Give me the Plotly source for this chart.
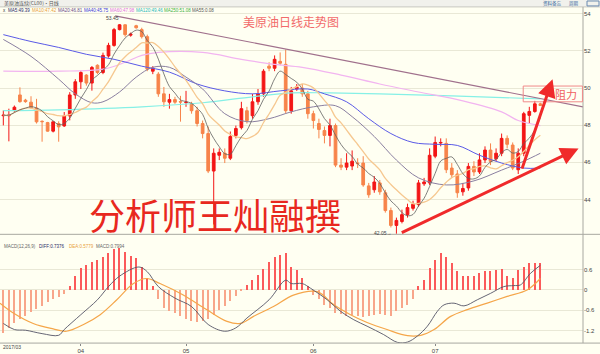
import plotly.graph_objects as go
import pandas as pd

W, H = 600, 354
def px(x): return x / W
def py(y): return 1 - y / H

BG = '#fffff2'
GRID = '#e9e8d6'
FONT = 'Liberation Sans'
CJK = 'Noto Sans CJK SC'

idx = list(range(98))
opens = [48.51,48.51,48.80,49.63,49.35,49.24,48.92,48.21,48.14,47.68,
         48.09,47.96,48.50,49.63,50.34,50.70,50.27,51.23,50.84,51.73,
         52.30,53.15,53.41,52.85,53.36,53.15,52.77,50.91,50.75,49.69,
         49.24,49.38,49.27,49.22,49.15,48.78,48.09,47.55,45.53,46.38,
         46.49,46.22,47.45,47.87,48.78,48.51,49.26,49.69,51.18,51.07,
         51.44,51.28,48.78,49.95,50.00,49.69,48.62,48.09,47.71,47.45,
         47.98,45.85,45.74,45.80,45.96,45.96,44.73,44.52,44.89,44.36,
         43.40,42.60,42.81,43.18,43.52,43.72,44.84,44.89,46.33,47.04,
         47.02,45.69,45.37,44.41,44.62,45.78,45.48,46.13,46.66,46.19,
         46.49,47.29,46.93,45.60,46.49,48.53,48.74,49.15]
closes = [48.54,48.54,48.97,49.27,49.27,48.95,48.18,48.19,47.68,48.18,
          47.91,48.50,49.63,50.34,50.84,50.27,51.11,50.84,51.76,52.30,
          53.15,53.41,52.88,52.91,53.25,52.77,51.02,51.07,49.69,49.26,
          49.38,49.24,49.25,49.24,48.78,48.09,47.55,45.53,46.49,46.54,
          46.22,47.39,47.82,48.89,48.25,49.26,49.69,50.91,51.07,51.55,
          51.34,48.78,49.85,50.06,49.69,48.62,48.25,47.77,47.45,47.98,
          45.85,45.74,45.96,46.06,45.93,44.78,44.25,44.94,44.41,43.40,
          42.60,42.87,43.18,43.56,43.74,44.89,44.94,46.38,47.07,47.07,
          45.60,45.33,44.36,44.59,45.78,45.48,46.13,46.66,46.05,46.49,
          47.29,46.97,45.69,46.49,48.62,48.74,49.15,49.06]
highs = [48.80,48.89,49.06,50.04,49.42,49.56,49.42,48.26,48.18,48.21,
         48.21,48.71,49.78,50.48,50.93,50.75,51.19,51.28,51.91,52.44,
         53.24,53.45,53.43,52.99,53.41,53.25,52.88,51.18,50.86,50.06,
         49.69,49.53,49.58,49.85,49.26,48.99,48.25,47.93,46.75,46.75,
         46.75,47.66,47.98,49.26,48.99,49.69,49.95,51.02,51.39,51.76,
         51.92,52.08,50.06,50.22,50.22,49.85,48.78,48.35,47.93,48.35,
         48.09,46.22,46.49,46.64,46.22,46.33,44.89,45.26,45.05,44.52,
         43.56,43.02,43.45,43.77,43.93,45.05,45.16,46.75,47.39,47.29,
         47.29,45.96,45.58,44.89,45.96,46.06,46.49,46.86,47.02,46.75,
         47.55,47.45,47.07,46.75,48.72,48.99,49.31,49.21]
lows = [47.99,47.13,48.71,49.21,49.21,48.89,48.09,47.11,47.65,47.61,
        47.11,47.91,48.26,49.42,49.95,50.13,49.86,50.75,50.75,51.64,
        52.23,53.11,52.77,52.77,53.20,52.67,50.91,50.75,49.53,48.99,
        48.89,49.15,48.19,48.99,48.62,47.93,47.29,45.42,42.65,46.12,
        45.96,46.12,47.29,47.77,48.09,48.35,49.10,49.53,50.91,50.91,
        51.23,48.62,48.62,49.85,49.53,48.35,47.82,47.29,47.02,46.86,
        45.74,45.58,45.58,45.58,45.69,44.68,44.09,44.36,44.25,43.29,
        42.49,42.15,42.71,43.02,43.40,43.61,44.73,44.78,46.22,46.86,
        45.42,45.16,44.09,44.20,44.47,45.26,45.37,45.96,45.85,46.06,
        46.33,46.75,45.58,45.37,46.33,48.09,48.67,49.04]

# moving averages (sample positions, price)
ma20_x = [0,5,10,13,16,18,21,24,27,30,33,36,40,44,48,52,56,60,63,67,71,75,80,85,90,94,97]
ma20_y = [52.62,51.71,50.48,49.69,49.21,49.26,49.79,50.59,51.12,51.12,50.59,49.95,48.62,48.19,
          48.35,48.72,48.99,49.05,48.46,47.39,46.12,45.16,44.78,45.00,45.58,46.06,46.49]
ma40_x = [0,5,10,15,20,25,30,35,40,45,50,55,58,62,66,70,74,78,82,86,90,94,97]
ma40_y = [52.88,52.51,52.19,51.82,51.55,51.18,50.86,50.22,49.85,49.69,49.85,49.95,49.69,49.26,
          48.35,47.55,47.07,46.97,46.91,46.38,45.96,45.69,45.69]
ma60_x = [0,10,18,22,25,28,36,43,49,54,61,68,75,83,90,93,97]
ma60_y = [50.91,50.91,51.02,51.39,51.76,51.92,51.92,51.55,51.28,51.12,50.70,50.22,49.79,49.31,48.72,48.25,47.98]
ma120_x = [0,10,25,36,45,52,59,68,81,97]
ma120_y = [48.78,48.83,48.99,49.21,49.53,49.74,49.74,49.69,49.58,49.42]
trend_x = [20.2, 104.7]
trend_y = [53.89, 48.99]

# MACD panel
hist = [-1.27,-1.12,-0.99,-0.88,-0.78,-0.66,-0.57,-0.47,-0.37,-0.29,
        -0.21,-0.12,0.10,0.39,0.63,0.73,0.83,0.88,0.97,1.07,
        1.19,1.22,1.12,0.99,0.93,0.68,0.34,0.10,-0.29,-0.54,
        -0.63,-0.70,-0.78,-0.86,-0.93,-0.96,-0.93,-0.88,-0.76,-0.60,
        -0.49,-0.34,-0.19,-0.05,0.15,0.29,0.44,0.60,0.83,0.97,
        1.02,1.09,0.68,0.58,0.34,0.10,-0.15,-0.29,-0.44,-0.54,
        -0.68,-0.73,-0.78,-0.76,-0.78,-0.80,-0.78,-0.76,-0.73,-0.76,
        -0.78,-0.63,-0.54,-0.44,-0.29,0.10,0.29,0.63,0.88,1.07,
        0.97,0.78,0.54,0.39,0.41,0.41,0.49,0.54,0.54,0.58,
        0.60,0.39,0.34,0.58,0.68,0.78,0.78,0.78]
diff_x = [0,2,4,7,10,11,14,17,19,21,24.5,26,28,31,34,37,40,42,44,48,51,52,54,55.5,58.5,60.9,
          63.3,65.7,68.7,71.2,73.0,74.8,76.6,78.4,79.6,81.4,83.2,85.6,88.0,90.4,92.2,93.4,95.2,97.0]
diff_y = [-0.99,-1.17,-1.19,-1.29,-1.34,-1.17,-0.73,-0.29,0.10,0.41,0.68,0.54,0.10,-0.24,-0.49,
          -1.02,-1.22,-1.12,-0.83,-0.29,0.29,0.19,0.19,0.05,-0.29,-0.63,-0.88,-1.07,-1.32,-1.55,
          -1.54,-1.36,-1.07,-0.63,-0.44,-0.39,-0.47,-0.29,-0.10,0.10,0.13,0.15,0.49,0.73]
dea_x = [-0.6,1.8,5.4,9.0,11.4,14.5,17.5,20.5,23.5,25.9,28.3,32.5,36.7,40.4,42.8,45.2,48.8,52.4,
         56.7,59.7,62.7,65.7,69.3,73.0,75.4,77.8,80.8,83.8,87.4,91.0,94.6,97.0]
dea_y = [-0.39,-0.68,-0.99,-1.15,-1.22,-1.02,-0.73,-0.29,0.19,0.34,0.19,-0.15,-0.58,-0.93,-0.99,
         -0.78,-0.49,-0.15,-0.05,-0.44,-0.73,-0.96,-1.17,-1.35,-1.34,-1.17,-0.78,-0.58,-0.39,-0.19,0.00,0.34]

month_idx = [14, 33, 56, 78]
month_lbl = ['04', '05', '06', '07']
first_month_lbl = '2017/03'
price_ticks = [44, 46, 48, 50, 52, 54]
macd_ticks = [-1.2, -0.6, 0, 0.6]

legend_items = [("MA5:49.39", '#2a2a66'), ("MA10:47.42", '#e8a040'), ("MA20:46.81", '#6a4a8a'),
                ("MA40:45.75", '#3a3ad8'), ("MA60:47.98", '#e070e0'), ("MA120:49.46", '#2ab8b8'),
                ("MA250:51.08", '#40b040'), ("MA55:0.08", '#555555')]
legend_px = [6, 30, 56, 82, 108, 134, 162, 190]
macd_legend = [("MACD(12,26,9)", '#666666', 2), ("DIFF:0.7376", '#2a2a66', 37),
               ("DEA:0.5779", '#e8a040', 67), ("MACD:0.7994", '#666666', 94)]
toolbar_items = [("资料备忘", 552), ("周期", 574)]

ma5 = pd.Series(closes).rolling(5, min_periods=1).mean()
ma10 = pd.Series(closes).rolling(10, min_periods=1).mean()

fig = go.Figure()
def line(x, y, color, width=1, ax='', shape='spline'):
    fig.add_trace(go.Scatter(x=x, y=y, mode='lines', hoverinfo='skip',
                             line=dict(color=color, width=width, shape=shape, smoothing=1.0),
                             xaxis='x' + ax, yaxis='y' + ax))

line(ma120_x, ma120_y, '#86f0e6', 1.2)
line(ma60_x, ma60_y, '#f2b4f0', 1.2)
line(trend_x, trend_y, '#a0708c', 1.2, shape='linear')
line(ma40_x, ma40_y, '#5a5ae6', 1)
line(ma20_x, ma20_y, '#8a7fa0', 1)
line(idx, ma10, '#f6c890', 1.3)
line(idx, ma5, '#606060', 0.8)

fig.add_trace(go.Candlestick(
    x=idx, open=opens, high=highs, low=lows, close=closes,
    increasing=dict(line=dict(color='#f31616', width=1), fillcolor='#f31616'),
    decreasing=dict(line=dict(color='#f7844a', width=1), fillcolor='#f7844a'),
    whiskerwidth=0, xaxis='x', yaxis='y', hoverinfo='skip'))

fig.add_trace(go.Bar(x=idx, y=hist, width=0.22, hoverinfo='skip',
                     marker=dict(color=['#fb5a5a' if v >= 0 else '#f8a68a' for v in hist], line=dict(width=0)),
                     xaxis='x2', yaxis='y2'))
line(dea_x, dea_y, '#f5a64a', 1.2, ax='2')
line(diff_x, diff_y, '#555566', 0.9, ax='2')

xr = [-0.6, 104.7]
tick_font = dict(size=6, color='#444444', family=FONT)
fig.update_layout(
    width=W, height=H, margin=dict(l=0, r=0, t=0, b=0),
    paper_bgcolor=BG, plot_bgcolor=BG, showlegend=False, bargap=0,
    xaxis=dict(domain=[0, 583 / W], range=xr, showticklabels=False, showgrid=False, zeroline=False,
               rangeslider=dict(visible=False), anchor='y'),
    yaxis=dict(domain=[py(237), py(7)], range=[42.12, 54.373], side='right', tickvals=price_ticks,
               gridcolor=GRID, gridwidth=1, zeroline=False, showline=False, tickfont=tick_font, anchor='x'),
    xaxis2=dict(domain=[0, 583 / W], range=xr, anchor='y2', tickvals=month_idx, ticktext=month_lbl,
                showgrid=False, zeroline=False, tickfont=tick_font, ticks='outside', ticklen=2,
                tickcolor='#888888'),
    yaxis2=dict(domain=[py(347), py(237)], range=[-1.57, 1.646], side='right', tickvals=macd_ticks,
                ticktext=['-1.2', '-0.6', '0', '0.6'], gridcolor=GRID, zeroline=False, tickfont=tick_font,
                anchor='x2'),
)

shapes = [
    dict(type='rect', xref='paper', yref='paper', x0=0, x1=1, y0=py(7), y1=1,
         fillcolor='#f1f1ec', line=dict(width=0), layer='below'),
    dict(type='line', xref='paper', yref='paper', x0=0, x1=1, y0=py(7), y1=py(7), line=dict(color='#c8c8c0', width=1)),
    dict(type='line', xref='paper', yref='paper', x0=0, x1=1, y0=py(237), y1=py(237), line=dict(color='#a8a8a0', width=1)),
    dict(type='line', xref='paper', yref='paper', x0=px(583), x1=px(583), y0=py(347), y1=py(7), line=dict(color='#a8a8a0', width=1)),
    dict(type='line', xref='paper', yref='paper', x0=0, x1=1, y0=py(347), y1=py(347), line=dict(color='#a8a8a0', width=1)),
    dict(type='rect', xref='paper', yref='paper', x0=px(587), x1=px(599), y0=py(6), y1=py(1),
         line=dict(color='#6a8ab0', width=1)),
    dict(type='rect', xref='x', yref='y', x0=93.9, x1=104.6, y0=49.26, y1=50.11,
         line=dict(color='#f08a8a', width=1)),
]
fig.update_layout(shapes=shapes)

ann = []
def text(x, y, t, size=5, color='#444', family=FONT, xanchor='left', xref='paper', yref='paper'):
    ann.append(dict(x=x, y=y, xref=xref, yref=yref, text=t, showarrow=False, xanchor=xanchor,
                    yanchor='middle', font=dict(size=size, color=color, family=family)))

text(px(2), py(3.5), '美原油连续(CL00)·日线', 5, '#555', CJK)
for t, xx in toolbar_items:
    text(px(xx), py(3.5), t, 4.5, '#3a6aa0', CJK, 'center')
text(px(1), py(11), 'x', 4.5, '#333')
for (t, c), xx in zip(legend_items, legend_px):
    text(px(xx), py(11), t, 4.5, c)
for t, c, xx in macd_legend:
    text(px(xx), py(249), t, 4.5, c)
text(px(1), py(351), first_month_lbl, 5, '#444')

text(px(291), py(22), '美原油日线走势图', 12, '#f26b6b', CJK, 'center')
text(px(215), py(216), '分析师王灿融撰', 36, '#e8281e', CJK, 'center')
text(px(566), py(95), '阻力', 11, '#f06060', CJK, 'center')

imax = highs.index(max(highs))
imin = lows.index(min(lows))
text(imax - 1.2, max(highs) + 0.3, f'{max(highs):.2f}', 5, '#444', FONT, 'center', 'x', 'y')
text(imin - 0.4, min(lows) + 0.05, '42.05→', 5, '#444', FONT, 'right', 'x', 'y')

arrows = [((71.7, 42.17), (103.9, 46.75)), ((93.6, 45.58), (99.2, 50.48))]
for (tx, ty), (hx, hy) in arrows:
    ann.append(dict(x=hx, y=hy, ax=tx, ay=ty, xref='x', yref='y', axref='x', ayref='y', text='',
                    showarrow=True, arrowhead=2, arrowsize=1.2, arrowwidth=3, arrowcolor='#f02a2a'))
fig.update_layout(annotations=ann)

fig.write_html('out.html')
